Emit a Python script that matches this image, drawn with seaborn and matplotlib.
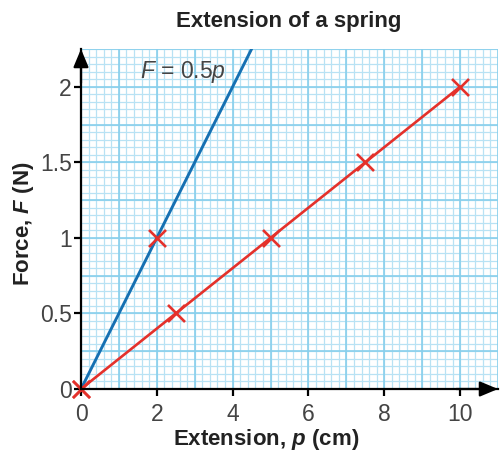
import numpy as np
import pandas as pd
import matplotlib
matplotlib.use("Agg")
import matplotlib.pyplot as plt
import seaborn as sns

# Measurements: extension p (cm) and force F (N)
ext_cm = [0, 2.5, 5, 7.5, 10]
force_n = [0, 0.5, 1, 1.5, 2]

# Extra plotted points (on the steeper spring's line)
extra_p = [0, 2]
extra_f = [0, 1]

# Steeper spring, F = 0.5p, drawn up to the top of the axis
blue_p = [0, 4.5]
blue_f = [0, 2.25]

x_ticks = [0, 2, 4, 6, 8, 10]
y_ticks = [0, 0.5, 1, 1.5, 2]
y_tick_labels = ["0", "0.5", "1", "1.5", "2"]

sns.set_theme(style="white")
plt.rcParams["font.family"] = ["Liberation Sans", "DejaVu Sans"]
plt.rcParams["mathtext.fontset"] = "custom"
plt.rcParams["mathtext.rm"] = "Liberation Sans"
plt.rcParams["mathtext.it"] = "Liberation Sans:italic"
plt.rcParams["mathtext.bf"] = "Liberation Sans:bold"
plt.rcParams["mathtext.bfit"] = "Liberation Sans:italic:bold"

RED = "#e4312b"
BLUE = "#1670b2"
MINOR = "#b8e2f4"
MAJOR = "#88cfec"
TXT = "#444444"

fig = plt.figure(figsize=(5.01, 4.59), dpi=100)
ax = fig.add_axes([81 / 501, 70 / 459, 417 / 501, 340 / 459])

xmax, ymax = 11.0, 2.25
ax.set_xlim(0, xmax)
ax.set_ylim(0, ymax)

# Graph-paper grid
xs_minor = np.arange(0, xmax + 1e-9, 0.2)
ys_minor = np.arange(0, ymax + 1e-9, 0.05)
ax.vlines(xs_minor, 0, ymax, color=MINOR, lw=0.9, zorder=0)
ax.hlines(ys_minor, 0, xmax, color=MINOR, lw=0.9, zorder=0)
ax.vlines(np.arange(0, xmax + 1e-9, 1.0), 0, ymax, color=MAJOR, lw=1.2, zorder=0)
ax.hlines(np.arange(0, ymax + 1e-9, 0.25), 0, xmax, color=MAJOR, lw=1.2, zorder=0)

df_red = pd.DataFrame({"p": ext_cm, "F": force_n})
df_blue = pd.DataFrame({"p": blue_p, "F": blue_f})
sns.lineplot(data=df_blue, x="p", y="F", ax=ax, color=BLUE, lw=2.1, zorder=3)
sns.lineplot(data=df_red, x="p", y="F", ax=ax, color=RED, lw=1.9, zorder=3)

df_pts = pd.DataFrame({"p": ext_cm + extra_p, "F": force_n + extra_f})
sns.scatterplot(data=df_pts, x="p", y="F", ax=ax, marker="x", s=150,
                color=RED, linewidth=1.9, zorder=5, clip_on=False)

ax.text(1.56, 2.095, r"$F$ = 0.5$p$", fontsize=16.5, color=TXT, va="center", ha="left")

# Axes styling
for side in ("top", "right"):
    ax.spines[side].set_visible(False)
for side in ("left", "bottom"):
    ax.spines[side].set_color("black")
    ax.spines[side].set_linewidth(1.6)
    ax.spines[side].set_zorder(6)

ax.set_xticks(x_ticks)
ax.set_xticklabels([str(v) for v in x_ticks])
ax.set_yticks(y_ticks)
ax.set_yticklabels(y_tick_labels)
ax.tick_params(axis="both", which="major", direction="out", length=5, width=1.6,
               color="black", labelsize=16.5, labelcolor=TXT,
               bottom=True, left=True)
ax.tick_params(axis="x", pad=5)
ax.tick_params(axis="y", pad=1.5)
ax.set_xlabel("")
ax.set_ylabel("")

# Arrow heads on the axes
arrow = dict(arrowstyle="-|>,head_length=0.55,head_width=0.23", color="black",
             lw=1.6, shrinkA=0, shrinkB=0, mutation_scale=20)
ax.annotate("", xy=(1.0, 0), xytext=(0.9, 0), xycoords="axes fraction",
            arrowprops=arrow, annotation_clip=False, zorder=7)
ax.annotate("", xy=(0, 1.0), xytext=(0, 0.9), xycoords="axes fraction",
            arrowprops=arrow, annotation_clip=False, zorder=7)

fig.text(289 / 501, 1 - 22 / 459, "Extension of a spring", fontsize=16,
         fontweight="bold", color="#222222", ha="center", va="center")
fig.text(266 / 501, 1 - 440 / 459, r"Extension, $\mathbfit{p}$ (cm)", fontsize=16,
         fontweight="bold", color="#222222", ha="center", va="center")
fig.text(23 / 501, 1 - 224 / 459, r"Force, $\mathbfit{F}$ (N)", fontsize=16,
         fontweight="bold", color="#222222", ha="center", va="center", rotation=90)

fig.savefig("out.png", dpi=100)
